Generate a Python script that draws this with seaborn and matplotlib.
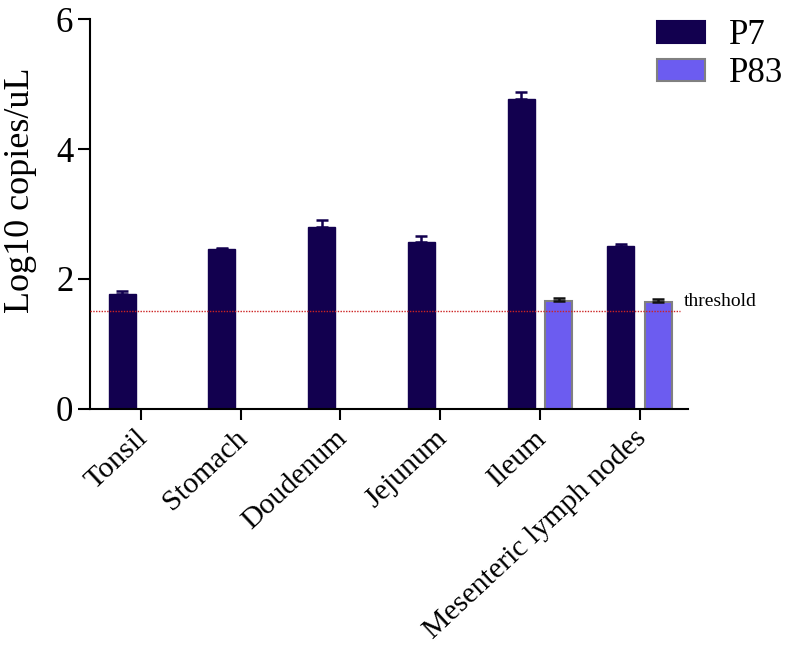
import numpy as np
import pandas as pd
import matplotlib
matplotlib.use("Agg")
import matplotlib.pyplot as plt
import matplotlib.transforms as mtransforms
import seaborn as sns

tissues = ["Tonsil", "Stomach", "Doudenum", "Jejunum", "Ileum",
           "Mesenteric lymph nodes"]
p7_mean = [1.77, 2.46, 2.80, 2.57, 4.77, 2.50]
p7_err = [0.04, 0.02, 0.10, 0.09, 0.11, 0.04]
p83_mean = [0, 0, 0, 0, 1.66, 1.65]
p83_err = [0, 0, 0, 0, 0.04, 0.04]
threshold = 1.51

df = pd.DataFrame({
    "tissue": tissues * 2,
    "strain": ["P7"] * 6 + ["P83"] * 6,
    "value": p7_mean + p83_mean,
})

sns.set_style("ticks")
plt.rcParams["font.family"] = ["Liberation Serif", "DejaVu Serif"]
plt.rcParams["text.color"] = "black"
plt.rcParams["axes.labelcolor"] = "black"
plt.rcParams["xtick.color"] = "black"
plt.rcParams["ytick.color"] = "black"

fig = plt.figure(figsize=(7.91, 6.47), dpi=100)
ax = fig.add_axes([0.1138, 0.3679, 0.7566, 0.6027])

palette = {"P7": "#12004f", "P83": "#6c5cf0"}

sns.barplot(
    data=df,
    x="tissue",
    y="value",
    hue="strain",
    palette=palette,
    width=0.75,
    gap=0.28,
    errorbar=None,
    saturation=1,
    ax=ax
)

# edge colours and one-sided error bars
errs = {"P7": p7_err, "P83": p83_err}
ecol = {"P7": "#12004f", "P83": "#111111"}
for cont, name in zip(ax.containers, ["P7", "P83"]):
    for bar, e in zip(cont, errs[name]):
        if bar.get_height() <= 0:
            bar.set_visible(False)
            continue
        if name == "P83":
            bar.set_edgecolor("#808080")
            bar.set_linewidth(1.5)
        else:
            bar.set_edgecolor("#12004f")
            bar.set_linewidth(1.0)
        x = bar.get_x() + bar.get_width() / 2
        ax.errorbar(
            x, bar.get_height(),
            yerr=[[0], [e]],
            fmt="none",
            ecolor=ecol[name],
            elinewidth=1.8,
            capsize=4.5,
            capthick=1.8,
            zorder=1
        )

ax.axhline(threshold, xmin=0, xmax=0.985, color="#cc2222",
           linestyle=(0, (1, 1)), linewidth=1.0, zorder=5)
ax.text(5.44, threshold + 0.15, "threshold", fontsize=14,
        va="center", ha="left", clip_on=False)

ax.set_xlim(-0.51, 5.49)
ax.set_ylim(0, 6)
ax.set_yticks([0, 2, 4, 6])
ax.set_xlabel("")
ax.set_ylabel("Log10 copies/uL", fontsize=26)
ax.yaxis.set_label_coords(-0.088, 0.56)

ax.tick_params(axis="y", labelsize=25, length=9, width=1.5, pad=3)
ax.tick_params(axis="x", labelsize=21.5, length=8, width=1.5, pad=8)
shift = mtransforms.ScaledTranslation(-6 / 100, 6 / 100, fig.dpi_scale_trans)
for lab in ax.get_xticklabels():
    lab.set_rotation(43)
    lab.set_ha("right")
    lab.set_va("top")
    lab.set_rotation_mode("anchor")
    lab.set_transform(lab.get_transform() + shift)

for s in ["left", "bottom"]:
    ax.spines[s].set_linewidth(1.5)
    ax.spines[s].set_color("black")
sns.despine(ax=ax)

leg = ax.legend(
    title=None,
    loc="upper left",
    bbox_to_anchor=(0.948, 1.0),
    frameon=False,
    fontsize=25,
    handlelength=1.37,
    handleheight=0.62,
    handletextpad=0.7,
    labelspacing=0.15,
    borderpad=0,
    borderaxespad=0
)
for h, name in zip(leg.legend_handles, ["P7", "P83"]):
    h.set_edgecolor("#808080" if name == "P83" else "#12004f")
    h.set_linewidth(1.5)

fig.savefig("out.png", dpi=100, facecolor="white")
